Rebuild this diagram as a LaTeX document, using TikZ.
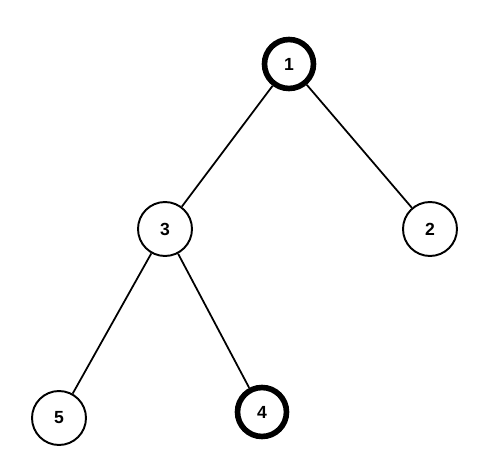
\documentclass[tikz,border=0pt]{standalone}
\usepackage{fontspec}
\setmainfont{Liberation Sans}
\usetikzlibrary{positioning}

\begin{document}
\begin{tikzpicture}[x=0.02cm, y=-0.02cm,
  vtx/.style={draw, circle, line width=1.1pt, minimum size=1.08cm, inner sep=0pt, font=\normalsize\bfseries, fill=white},
  hot/.style={vtx, line width=3.2pt, minimum size=0.98cm},
  edge/.style={line width=1pt}
]
\useasboundingbox (0,0) rectangle (491,460);
% Nodi
\node[hot] (n1) at (289,64) {1};
\node[vtx] (n3) at (165,229) {3};
\node[vtx] (n2) at (430,229) {2};
\node[vtx] (n5) at (59,418) {5};
\node[hot] (n4) at (262,412) {4};
% Archi
\draw[edge] (n1) -- (n3);
\draw[edge] (n1) -- (n2);
\draw[edge] (n3) -- (n5);
\draw[edge] (n3) -- (n4);
\end{tikzpicture}
\end{document}
